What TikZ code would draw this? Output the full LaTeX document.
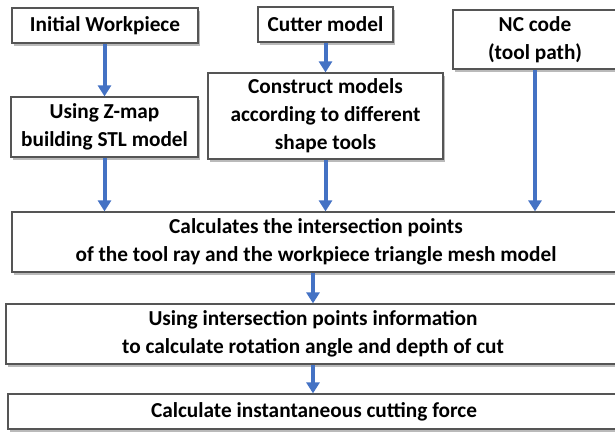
\documentclass[tikz,border=0pt]{standalone}
\usepackage{fontspec}
\setmainfont{Carlito}
\usetikzlibrary{shadows,arrows.meta}
\definecolor{arrblue}{RGB}{68,114,196}
\definecolor{edgegray}{RGB}{85,85,85}
\begin{document}
\begin{tikzpicture}[x=1pt,y=-1pt,
  box/.style={draw=edgegray,line width=1.2pt,fill=white,inner sep=0pt,align=center,
    font=\bfseries\fontsize{21.3}{28}\selectfont,
    drop shadow={shadow xshift=1.5pt,shadow yshift=-2.5pt,fill=black!60,opacity=0.45}},
  arr/.style={draw=arrblue,line width=4pt,-{Triangle[width=13pt,length=11pt]}}]
\useasboundingbox (0,0) rectangle (615,431);
\clip (0,0) rectangle (615,431);
\node[box,minimum width=186pt,minimum height=35pt] (A) at (105,25.5) {Initial Workpiece};
\node[box,minimum width=187pt,minimum height=60pt] (B) at (104.5,127) {Using Z-map\\building STL model};
\node[box,minimum width=135pt,minimum height=35pt] (C) at (325.5,24.5) {Cutter model};
\node[box,minimum width=235pt,minimum height=86pt] (D) at (325.5,116) {Construct models\\according to different\\shape tools};
\node[box,minimum width=164pt,minimum height=59pt] (E) at (535,39.5) {NC code\\(tool path)};
\node[box,minimum width=608pt,minimum height=60pt] (F) at (316,242) {Calculates the intersection points\\of the tool ray and the workpiece triangle mesh model};
\node[box,minimum width=614pt,minimum height=60pt] (G) at (313,334) {Using intersection points information\\to calculate rotation angle and depth of cut};
\node[box,minimum width=612pt,minimum height=35pt] (H) at (314,411.5) {Calculate instantaneous cutting force};
\draw[arr] (A.south -| B.north) -- (B.north);
\draw[arr] (B.south) -- (B.south |- F.north);
\draw[arr] (C.south) -- (D.north);
\draw[arr] (D.south) -- (D.south |- F.north);
\draw[arr] (E.south) -- (E.south |- F.north);
\draw[arr] (F.south -| G.north) -- (G.north);
\draw[arr] (G.south) -- (G.south |- H.north);
\end{tikzpicture}
\end{document}
